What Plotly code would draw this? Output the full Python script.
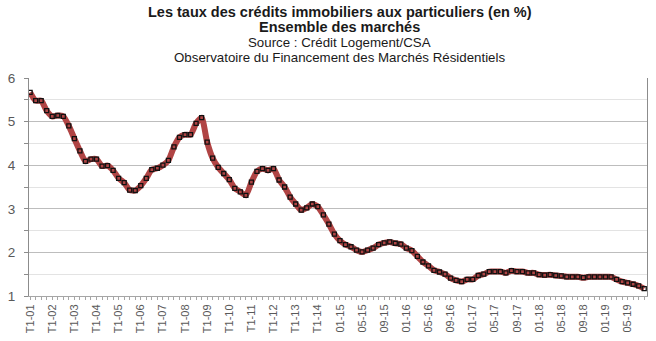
import plotly.graph_objects as go

# Categories: quarterly 2001-2014, then monthly 01-15 .. 08-19
quarters = [f"T{q}-{y:02d}" for y in range(1, 15) for q in range(1, 5)]
months = [f"{m:02d}-{y}" for y in range(15, 20) for m in range(1, 13)][:56]
categories = quarters + months

rates = [
    5.67, 5.48, 5.48, 5.25, 5.12, 5.14, 5.12, 4.90, 4.61, 4.33, 4.09, 4.14, 4.14, 3.98, 3.99, 3.88, 3.70, 3.60, 3.43,
    3.42, 3.53, 3.70, 3.90, 3.93, 4.00, 4.11, 4.42, 4.64, 4.70, 4.70, 4.96, 5.09, 4.53, 4.16, 3.95, 3.81, 3.67,
    3.47, 3.39, 3.31, 3.61, 3.86, 3.92, 3.88, 3.92, 3.66, 3.50, 3.27, 3.11, 2.97, 3.02, 3.11, 3.05, 2.86, 2.65,
    2.42, 2.27, 2.18, 2.13, 2.05, 2.01, 2.05, 2.10, 2.18, 2.22, 2.24, 2.21, 2.19, 2.10, 2.04, 1.91, 1.78, 1.69, 1.59,
    1.55, 1.50, 1.41, 1.36, 1.33, 1.38, 1.38, 1.47, 1.50, 1.56, 1.56, 1.56, 1.53, 1.58, 1.56, 1.56, 1.53, 1.53,
    1.49, 1.48, 1.49, 1.47, 1.46, 1.44, 1.44, 1.44, 1.42, 1.44, 1.44, 1.44, 1.44, 1.44, 1.38, 1.33, 1.30, 1.27, 1.23, 1.17,
]

y_ticks = [1, 2, 3, 4, 5, 6]
label_step = 4

xs = list(range(len(categories)))
tick_idx = xs[::label_step]
tick_txt = [categories[i] for i in tick_idx]

fig = go.Figure()
fig.add_trace(go.Scatter(
    x=xs, y=rates, mode="lines",
    line=dict(color="#b04444", width=6, shape="spline", smoothing=0.6),
    hoverinfo="skip", showlegend=False,
))
fig.add_trace(go.Scatter(
    x=xs, y=rates, mode="markers",
    marker=dict(symbol="square-open", size=4, color="#111111", line=dict(width=1.3, color="#111111")),
    showlegend=False,
))

title_lines = [
    ("<b>Les taux des crédits immobiliers aux particuliers (en %)</b>", 10, 14.5),
    ("<b>Ensemble des marchés</b>", 25.5, 14.5),
    ("Source : Crédit Logement/CSA", 41.5, 13.3),
    ("Observatoire du Financement des Marchés Résidentiels", 57, 13.3),
]
for txt, ypx, fs in title_lines:
    fig.add_annotation(
        text=txt, xref="paper", yref="paper",
        x=(339 - 26) / (648 - 26), y=(302 - ypx) / (302 - 78),
        xanchor="center", yanchor="middle", showarrow=False,
        font=dict(family="Liberation Sans, Arial, sans-serif", size=fs, color="#1a1a1a"),
    )

fig.update_layout(
    width=656, height=341,
    margin=dict(l=26, r=8, t=78, b=39),
    paper_bgcolor="white", plot_bgcolor="white",
    font=dict(family="Liberation Sans, Arial, sans-serif", color="#595959"),
    xaxis=dict(
        range=[-0.2, 111.5],
        tickmode="array", tickvals=tick_idx, ticktext=tick_txt,
        tickangle=-90, tickfont=dict(size=11, color="#595959"),
        showgrid=False, zeroline=False,
        showline=True, linecolor="#a6a6a6", linewidth=1,
        ticks="outside", ticklen=3, tickcolor="#a6a6a6",
        minor=dict(dtick=1, tick0=0, ticks="outside", ticklen=3, tickcolor="#a6a6a6", showgrid=False),
    ),
    yaxis=dict(
        range=[1, 6], tickvals=y_ticks,
        tickfont=dict(size=13.5, color="#595959"),
        ticklabelstandoff=6,
        showgrid=True, gridcolor="#bdbdbd", gridwidth=1,
        minor=dict(dtick=0.5, tick0=1, showgrid=True, gridcolor="#e3e3e3", gridwidth=1,
                   ticks="outside", ticklen=4, tickcolor="#8c8c8c"),
        zeroline=False,
        showline=True, linecolor="#8c8c8c", linewidth=1, mirror=True,
        ticks="outside", ticklen=4, tickcolor="#8c8c8c",
    ),
)

fig.write_html("out.html")
